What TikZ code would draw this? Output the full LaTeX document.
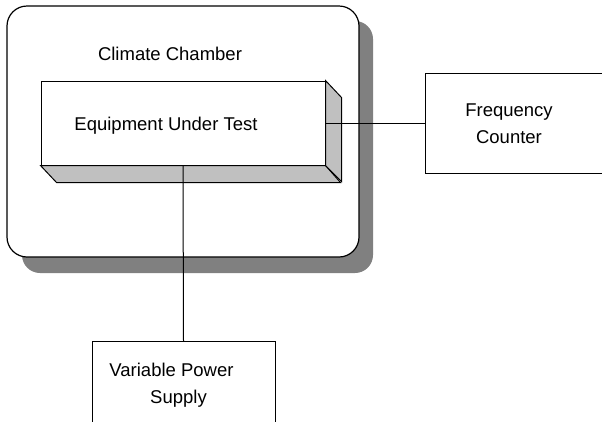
\documentclass[tikz,border=0pt]{standalone}
\usepackage{fontspec}
\setmainfont{Liberation Sans}
\definecolor{shadowgray}{HTML}{808080}
\definecolor{sidegray}{HTML}{C0C0C0}
\begin{document}
\begin{tikzpicture}[x=1pt,y=-1pt,line width=1pt,
  lbl/.style={anchor=base,inner sep=0pt,font=\fontsize{18.5}{22}\selectfont},
  plainbox/.style={draw=black,fill=white,inner sep=0pt},
  face/.style={draw=black,fill=sidegray,line join=miter}]
\clip (0,0) rectangle (602,421);
\fill[white] (0,0) rectangle (602,421);
% chamber shadow and chamber
\fill[shadowgray,rounded corners=18pt] (22,21) rectangle (373,273);
\node[plainbox,rounded corners=20pt,line width=1.2pt,minimum width=352pt,minimum height=251pt] (cc) at (183,131.5) {};
\node[lbl] (cctext) at (170,60) {Climate Chamber};
% equipment under test (3D box)
\node[plainbox,minimum width=284pt,minimum height=84pt] (eut) at (183,123) {};
\filldraw[face] (eut.south west) -- ++(16,17) -- ++(284,0) -- (eut.south east) -- cycle;
\filldraw[face] (eut.north east) -- ++(16,17) -- ++(0,84) -- (eut.south east) -- cycle;
\node[lbl] (euttext) at (166,130) {Equipment Under Test};
% frequency counter
\node[plainbox,anchor=west,minimum width=200pt,minimum height=100pt] (fc) at (425,123) {};
\node[lbl] (fc1) at (509,116) {Frequency};
\node[lbl] (fc2) at (509,143) {Counter};
% variable power supply
\node[plainbox,anchor=north,minimum width=183pt,minimum height=100pt] (ps) at (183.5,341) {};
\node[lbl] (ps1) at (171.5,376) {Variable Power};
\node[lbl] (ps2) at (178.5,403) {Supply};
% connectors
\draw (eut.east) -- (fc.west);
\draw (eut.south) -- (ps.north);
\end{tikzpicture}
\end{document}
